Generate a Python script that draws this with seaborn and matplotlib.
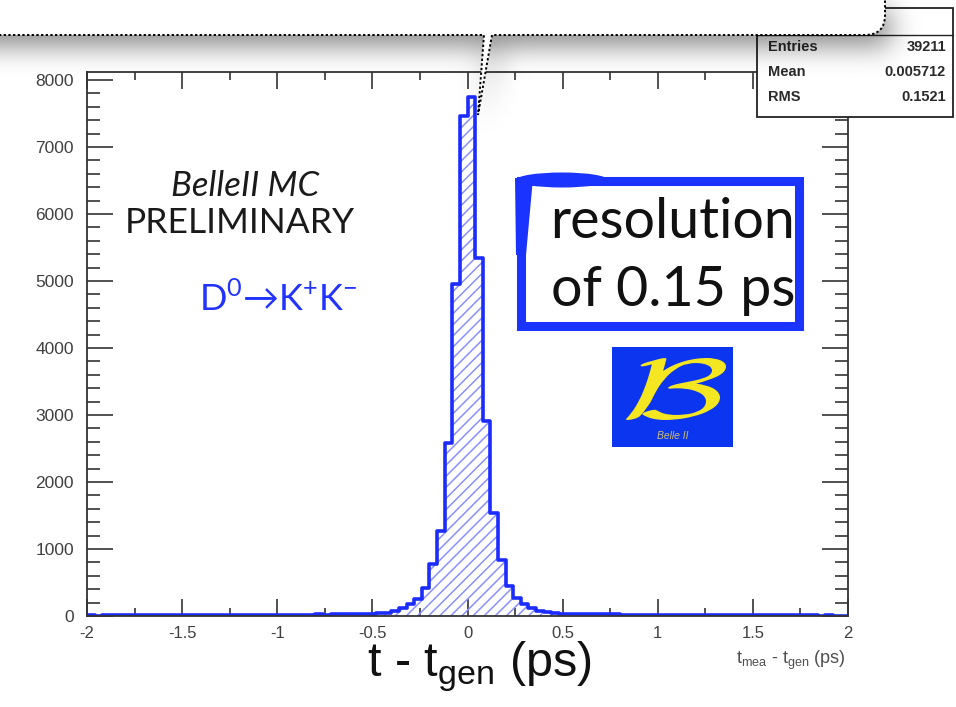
import numpy as np
import pandas as pd
import matplotlib
matplotlib.use("Agg")
import matplotlib.pyplot as plt
import seaborn as sns
from matplotlib.patches import Rectangle, Ellipse, PathPatch, Polygon
from matplotlib.path import Path
from matplotlib.textpath import TextPath
from matplotlib.font_manager import FontProperties
from matplotlib.transforms import Affine2D
from matplotlib.ticker import MultipleLocator, FixedLocator, FixedFormatter

# ---------------- data ----------------
bin_lo = -2.0
bin_hi = 2.0
bin_width = 0.04
left_tail = [8, 7, 8, 9, 8, 9, 10, 9, 10, 11, 10, 12, 11, 12, 13, 12, 13, 14, 15,
             14, 15, 17, 16, 17, 19, 18, 19, 21, 20, 21, 23, 22, 24, 26, 25, 27, 28]
core = [32, 40, 50, 75, 120, 180, 255, 420, 775, 1270, 2580, 4955, 7460,
        7750, 5340, 2910, 1540, 835, 450, 275, 180, 120, 80, 60, 45, 35]
right_tail = [30, 28, 27, 25, 26, 24, 23, 21, 22, 20, 19, 20, 18, 17, 18, 16, 15, 16,
              14, 13, 14, 12, 13, 11, 12, 10, 11, 10, 9, 10, 8, 9, 8, 7, 8, 7, 6]
counts = np.array(left_tail + core + right_tail, dtype=float)
n_bins = len(counts)
centers = bin_lo + bin_width * (np.arange(n_bins) + 0.5)
df = pd.DataFrame({"t": centers, "w": counts})

xticks = [-2, -1.5, -1, -0.5, 0, 0.5, 1, 1.5, 2]
xticklabels = ["-2", "-1.5", "-1", "-0.5", "0", "0.5", "1", "1.5", "2"]
yticks = [0, 1000, 2000, 3000, 4000, 5000, 6000, 7000, 8000]
yticklabels = ["0", "1000", "2000", "3000", "4000", "5000", "6000", "7000", "8000"]
stats_names = ["Entries", "Mean", "RMS"]
stats_values = ["39211", "0.005712", "0.1521"]

# ---------------- style ----------------
sns.set_theme(style="ticks")
plt.rcParams["font.family"] = ["Liberation Sans", "DejaVu Sans"]
plt.rcParams["hatch.linewidth"] = 1.1

W, H = 956, 707
fig = plt.figure(figsize=(W / 100, H / 100), dpi=100)
fig.patch.set_facecolor("white")

axL, axR, axT, axB = 87, 848, 72, 616
ax = fig.add_axes([axL / W, 1 - axB / H, (axR - axL) / W, (axB - axT) / H])

blue = "#1c2cff"
hatch_blue = "#8a90ff"

sns.histplot(data=df, x="t", weights="w", bins=n_bins, binrange=(bin_lo, bin_hi),
             element="step", fill=True, color=hatch_blue, ax=ax)
poly = ax.collections[-1]
poly.set_alpha(None)
poly.set_facecolor("none")
poly.set_edgecolor(hatch_blue)
poly.set_hatch("///")
poly.set_linewidth(0)
sns.histplot(data=df, x="t", weights="w", bins=n_bins, binrange=(bin_lo, bin_hi),
             element="step", fill=False, color=blue, linewidth=2.6, ax=ax)

ax.set_xlim(-2, 2)
ax.set_ylim(0, 8118)
ax.set_xlabel("")
ax.set_ylabel("")
ax.xaxis.set_major_locator(FixedLocator(xticks))
ax.xaxis.set_major_formatter(FixedFormatter(xticklabels))
ax.xaxis.set_minor_locator(MultipleLocator(0.25))
ax.yaxis.set_major_locator(FixedLocator(yticks))
ax.yaxis.set_major_formatter(FixedFormatter(yticklabels))
ax.yaxis.set_minor_locator(MultipleLocator(200))
ax.tick_params(axis="both", which="both", direction="in", top=True, right=True,
               color="#333333", width=1.2)
ax.tick_params(axis="x", which="major", length=12, pad=7, labelsize=12, labelcolor="#404040")
ax.tick_params(axis="x", which="minor", length=5.5)
ax.tick_params(axis="y", which="major", length=19, pad=9.5, labelsize=12.5, labelcolor="#404040")
ax.tick_params(axis="y", which="minor", length=9.5)
for s in ax.spines.values():
    s.set_linewidth(1.3)
    s.set_color("#333333")
    s.set_visible(True)

# ---------------- overlay (figure pixel coords) ----------------
ov = fig.add_axes([0, 0, 1, 1], zorder=10)
ov.set_xlim(0, W)
ov.set_ylim(H, 0)
ov.axis("off")
ov.patch.set_alpha(0)

# stats box
ov.add_patch(Rectangle((757, 8), 196, 109, facecolor="white", edgecolor="#222222", lw=1.3, zorder=1))
ov.plot([757, 953], [35, 35], color="#222222", lw=1.0, zorder=1.5)
for i, (nm, val) in enumerate(zip(stats_names, stats_values)):
    y = 47 + 25 * i
    ov.text(768, y, nm, fontsize=10.5, fontweight="bold", color="#2a2a2a", va="center", ha="left", zorder=2)
    ov.text(946, y, val, fontsize=10.5, fontweight="bold", color="#2a2a2a", va="center", ha="right", zorder=2)

# shadow of the callout
yy, xx = np.mgrid[0:H, 0:W].astype(float)
mask = ((yy < 35) & (xx < 885)).astype(float)
xl = 484 + (478 - 484) * (yy - 35) / 80.0
xr = 492 + (478 - 492) * (yy - 35) / 80.0
mask[(yy >= 35) & (yy <= 115) & (xx >= xl) & (xx <= xr)] = 1.0
mask = np.roll(mask, (10, 5), axis=(0, 1))
mask[:, :5] = mask[:, 5:6]


def blur1d(a, sigma, axis):
    r = int(3 * sigma)
    k = np.exp(-0.5 * (np.arange(-r, r + 1) / sigma) ** 2)
    k /= k.sum()
    pad = [(0, 0), (0, 0)]
    pad[axis] = (r, r)
    ap = np.pad(a, pad, mode="edge")
    out = np.zeros_like(a)
    n = a.shape[axis]
    for i, w in enumerate(k):
        sl = [slice(None), slice(None)]
        sl[axis] = slice(i, i + n)
        out += w * ap[tuple(sl)]
    return out


sh = blur1d(blur1d(mask, 14, 0), 14, 1)
img = np.zeros((H, W, 4))
img[..., 3] = 0.5 * sh
ov.imshow(img, extent=(0, W, H, 0), zorder=3, interpolation="bilinear", aspect="auto")
ov.set_xlim(0, W)
ov.set_ylim(H, 0)

# callout body
verts = [(-10, -10), (-10, 35), (484, 35), (478, 115), (492, 35), (865, 35),
         (885, 35), (885, 15), (885, -10), (-10, -10)]
codes = [Path.MOVETO, Path.LINETO, Path.LINETO, Path.LINETO, Path.LINETO, Path.LINETO,
         Path.CURVE3, Path.CURVE3, Path.LINETO, Path.CLOSEPOLY]
ov.add_patch(PathPatch(Path(verts, codes), facecolor="white", edgecolor="none", zorder=4))
verts2 = [(-10, 35), (484, 35), (478, 115), (492, 35), (865, 35), (885, 35), (885, 15), (885, -10)]
codes2 = [Path.MOVETO, Path.LINETO, Path.LINETO, Path.LINETO, Path.LINETO,
          Path.CURVE3, Path.CURVE3, Path.LINETO]
ov.add_patch(PathPatch(Path(verts2, codes2), facecolor="none", edgecolor="black",
                       lw=1.4, linestyle=(0, (1.2, 1.2)), zorder=5))

# slide annotations
ov.text(245, 186, "BelleII MC", fontsize=25, style="italic", family=["Lato", "DejaVu Sans"],
        color="#1a1a1a", ha="center", va="center", zorder=6)
ov.text(240, 223, "PRELIMINARY", fontsize=25.5, family=["Lato", "DejaVu Sans"],
        color="#1a1a1a", ha="center", va="center", zorder=6)
ov.text(278, 299, r"D$^\mathregular{0}$→K$^\mathregular{+}$K$^\mathregular{-}$", fontsize=26,
        family=["Lato", "DejaVu Sans"], color="#2233ff", ha="center", va="center", zorder=6)

# resolution box
rb = "#1a33ff"
ov.add_patch(Rectangle((521, 181), 278, 145, facecolor="none", edgecolor=rb, lw=6.5, zorder=6))
ov.add_patch(Ellipse((562, 180), 92, 15, facecolor=rb, edgecolor="none", zorder=6))
ov.add_patch(Polygon([(515, 178), (533, 178), (526, 255), (516, 255)], closed=True,
                     facecolor=rb, edgecolor="none", zorder=6))
ov.text(673, 222, "resolution", fontsize=40, family=["Lato", "DejaVu Sans"],
        color="#111111", ha="center", va="center", zorder=7)
ov.text(673, 290, "of 0.15 ps", fontsize=40, family=["Lato", "DejaVu Sans"],
        color="#111111", ha="center", va="center", zorder=7)

# Belle II logo
ov.add_patch(Rectangle((612, 347), 121, 100, facecolor="#0b35ee", edgecolor="none", zorder=6))
tp = TextPath((0, 0), r"$\mathcal{B}$", size=50, prop=FontProperties(math_fontfamily="cm"))
bb = tp.get_extents()
tr = (Affine2D().translate(-(bb.x0 + bb.width / 2), -(bb.y0 + bb.height / 2))
      .scale(100 / bb.width, -62 / bb.height).translate(676, 389))
ov.add_patch(PathPatch(tr.transform_path(tp), facecolor="#f4e620", edgecolor="none", zorder=7))
ov.text(673, 436, "Belle II", fontsize=7.5, style="italic", color="#cfc070",
        ha="center", va="center", zorder=7)

# axis titles
ov.text(846, 660, r"t$_\mathregular{mea}$ - t$_\mathregular{gen}$ (ps)", fontsize=13,
        color="#505050", ha="right", va="center", zorder=6)
ov.text(480, 667, r"t - t$_\mathregular{gen}$ (ps)", fontsize=35, color="#111111",
        ha="center", va="center", zorder=6)

fig.savefig("out.png", dpi=100, facecolor="white")
